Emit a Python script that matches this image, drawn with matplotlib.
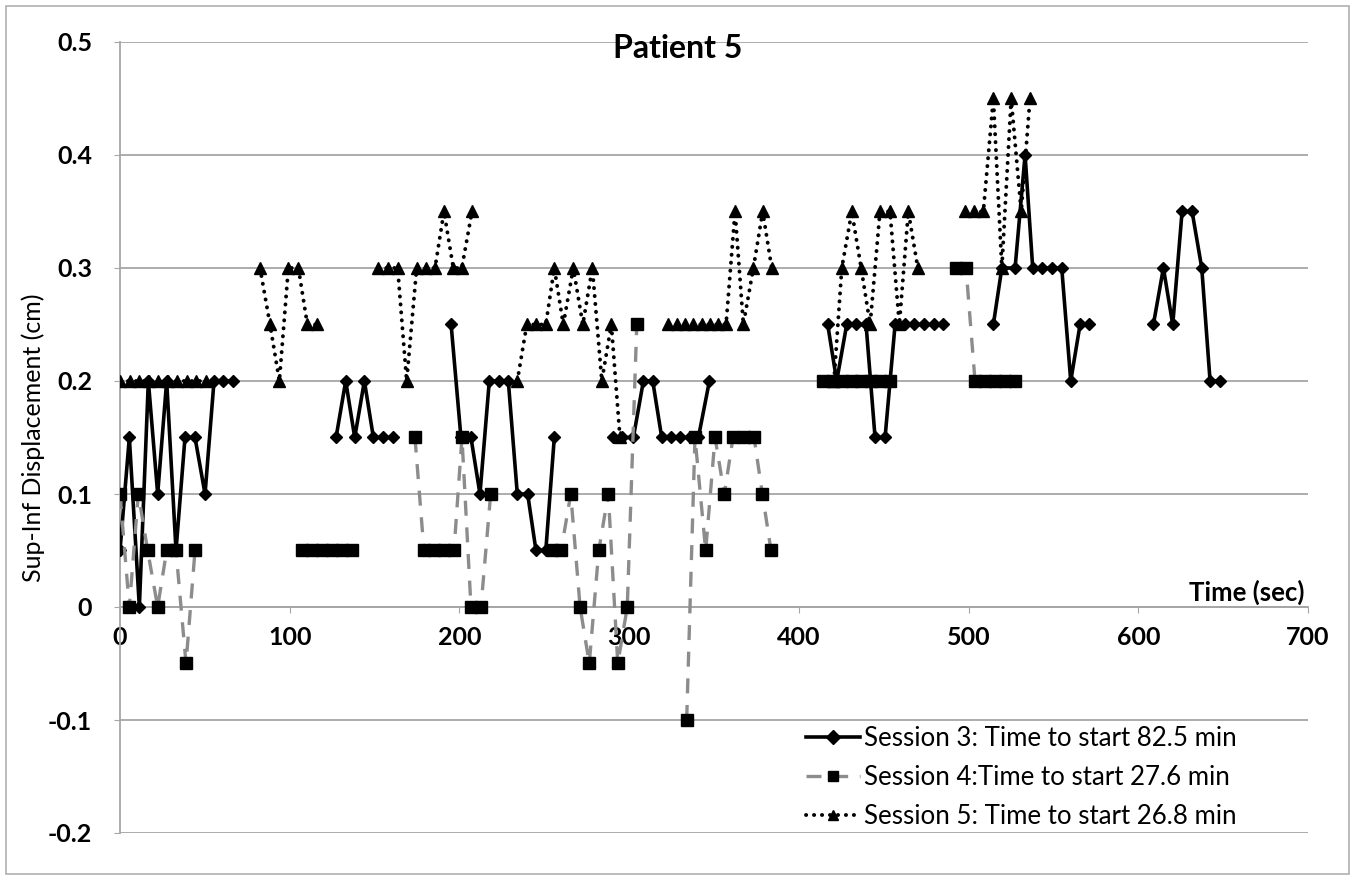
import numpy as np
import matplotlib
matplotlib.use("Agg")
import matplotlib.pyplot as plt
from matplotlib.patches import Rectangle

plt.rcParams['font.family'] = ['Lato', 'DejaVu Sans']

nan = np.nan

# Session 3 (solid, diamonds) -- NaN separates gaps
s3_t = [0, 5.5, 11.4, 16.7, 22.2, 27.5, 33.0, 38.3, 44.2, 50.1, 55.4, 60.9, 66.4, nan,
        127.3, 133.0, 138.3, 144.0, 149.3, 155.2, 160.7, nan,
        195.1, 200.9, 206.8, 212.1, 217.6, 223.3, 228.8, 234.1, 240.2, 245.1, 250.9, 255.9, nan,
        290.7, 295.6, 302.5, 308.4, 313.9, 319.2, 324.5, 330.0, 335.9, 340.8, 347.3, nan,
        417.0, 422.3, 428.2, 433.7, 439.6, 444.9, 450.8, 456.7, 462.4, 468.1, 473.8, 479.5, 485.1, nan,
        514.6, 519.6, 527.4, 533.3, 537.8, 543.1, 549.0, 554.9, 560.2, 565.7, 571.2, nan,
        608.9, 614.8, 620.3, 625.8, 631.7, 637.4, 642.3, 648.2]
s3_v = [.05, .15, 0, .2, .1, .2, .05, .15, .15, .1, .2, .2, .2, nan,
        .15, .2, .15, .2, .15, .15, .15, nan,
        .25, .15, .15, .1, .2, .2, .2, .1, .1, .05, .05, .15, nan,
        .15, .15, .15, .2, .2, .15, .15, .15, .15, .15, .2, nan,
        .25, .2, .25, .25, .25, .15, .15, .25, .25, .25, .25, .25, .25, nan,
        .25, .3, .3, .4, .3, .3, .3, .3, .2, .25, .25, nan,
        .25, .3, .25, .35, .35, .3, .2, .2]

# Session 4 (grey dashed, squares)
s4_t = [0, 5.5, 10.8, 16.3, 22.2, 27.5, 33.0, 38.9, 44.2, nan,
        107.2, 113.1, 119.0, 124.9, 130.8, 136.7, nan,
        173.8, 179.1, 185.0, 190.9, 196.8, 201.5, 206.8, 212.7, 218.4, nan,
        254.6, 259.9, 265.6, 271.1, 276.5, 282.1, 287.7, 293.3, 298.9, 304.5, nan,
        333.9, 338.8, 345.1, 350.6, 356.1, 361.2, 367.4, 373.6, 378.5, 383.6, nan,
        414.5, 420.1, 425.7, 431.3, 436.9, 442.5, 448.1, 453.7, nan,
        492.6, 498.5, 503.8, 509.7, 515.6, 521.5, 527.4]
s4_v = [.1, 0, .1, .05, 0, .05, .05, -.05, .05, nan,
        .05, .05, .05, .05, .05, .05, nan,
        .15, .05, .05, .05, .05, .15, 0, 0, .1, nan,
        .05, .05, .1, 0, -.05, .05, .1, -.05, 0, .25, nan,
        -.1, .15, .05, .15, .1, .15, .15, .15, .1, .05, nan,
        .2, .2, .2, .2, .2, .2, .2, .2, nan,
        .3, .3, .2, .2, .2, .2, .2]

# Session 5 (dotted, triangles)
s5_t = [0, 5.6, 11.2, 16.8, 22.4, 28.0, 33.6, 39.2, 44.8, 50.4, nan,
        82.5, 88.4, 93.9, 99.2, 105.1, 110.4, 115.9, nan,
        152.2, 157.7, 163.6, 168.9, 174.8, 180.1, 185.6, 190.9, 196.4, 201.4, 207.4, nan,
        234.1, 239.7, 245.3, 250.9, 255.9, 261.2, 267.1, 272.7, 278.3, 283.9, 289.5, 294.6, nan,
        323.1, 328.0, 333.0, 337.8, 342.7, 347.7, 352.6, 357.1, 362.4, 367.3, 373.2, 378.7, 384.0, nan,
        420.7, 425.3, 431.2, 436.7, 442.0, 447.8, 453.7, 459.2, 464.5, 470.1, nan,
        497.9, 503.4, 508.7, 514.6, 519.6, 525.1, 531.0, 536.2]
s5_v = [.2, .2, .2, .2, .2, .2, .2, .2, .2, .2, nan,
        .3, .25, .2, .3, .3, .25, .25, nan,
        .3, .3, .3, .2, .3, .3, .3, .35, .3, .3, .35, nan,
        .2, .25, .25, .25, .3, .25, .3, .25, .3, .2, .25, .15, nan,
        .25, .25, .25, .25, .25, .25, .25, .25, .35, .25, .3, .35, .3, nan,
        .2, .3, .35, .3, .25, .35, .35, .25, .35, .3, nan,
        .35, .35, .35, .45, .3, .45, .35, .45]

labels = ["Session 3: Time to start 82.5 min",
          "Session 4:Time to start 27.6 min",
          "Session 5: Time to start 26.8 min"]
x_ticks = [0, 100, 200, 300, 400, 500, 600, 700]
y_ticks = [-0.2, -0.1, 0, 0.1, 0.2, 0.3, 0.4, 0.5]
y_ticklabels = ["-0.2", "-0.1", "0", "0.1", "0.2", "0.3", "0.4", "0.5"]

W, H = 1355, 880
fig = plt.figure(figsize=(W / 100, H / 100), dpi=100)
ax = fig.add_axes([120 / W, 1 - 833 / H, (1308 - 120) / W, (833 - 42) / H])

grid_c = '#a6a6a6'
ax.spines['top'].set_visible(False)
ax.spines['right'].set_visible(False)
ax.spines['bottom'].set_position(('data', 0))
ax.spines['bottom'].set_color(grid_c)
ax.spines['left'].set_color(grid_c)
ax.spines['bottom'].set_linewidth(1.3)
ax.spines['left'].set_linewidth(1.3)

for yv in y_ticks:
    ax.axhline(yv, color=grid_c, lw=1.3, zorder=0)

l3, = ax.plot(s3_t, s3_v, color='black', lw=2.6, marker='D', markersize=6,
              markerfacecolor='black', markeredgecolor='black', zorder=3)
l4, = ax.plot(s4_t, s4_v, color='#8c8c8c', lw=2.4, dashes=(4.5, 3.5),
              marker='s', markersize=8, markerfacecolor='black', markeredgecolor='black', zorder=4)
l5, = ax.plot(s5_t, s5_v, color='black', lw=2.8, linestyle=(0, (0.05, 2.0)),
              dash_capstyle='round',
              marker='^', markersize=8.5, markerfacecolor='black', markeredgecolor='black', zorder=5)

ax.set_xlim(0, 700)
ax.set_ylim(-0.2, 0.5)
ax.set_xticks(x_ticks)
ax.set_xticklabels([str(v) for v in x_ticks], fontweight='bold', fontsize=18)
ax.set_yticks(y_ticks)
ax.set_yticklabels(y_ticklabels, fontweight='bold', fontsize=18)
ax.tick_params(axis='x', length=4, color=grid_c, pad=10)
ax.tick_params(axis='y', length=4, color=grid_c, pad=16)

ax.set_ylabel("Sup-Inf Displacement (cm)", fontsize=18)
ax.yaxis.set_label_coords(-75 / (1308 - 120), 0.5)
fig.text(0.5, 1 - 48 / H, "Patient 5", ha='center', va='center',
         fontsize=23, fontweight='bold')
ax.text(698, 0.013, "Time (sec)", ha='right', va='center', fontsize=18.5, fontweight='bold')

leg = ax.legend([l3, l4, l5], labels, loc='upper left',
                bbox_to_anchor=(806 / W, 1 - 726 / H), bbox_transform=fig.transFigure,
                frameon=False, fontsize=18.6, handlelength=2.1, handletextpad=0.15,
                labelspacing=0.55, borderaxespad=0, borderpad=0)
for h in leg.legend_handles:
    h.set_markersize(7)

fig.add_artist(Rectangle((6 / W, 6 / H), 1 - 12 / W, 1 - 12 / H, transform=fig.transFigure,
                         fill=False, edgecolor='#b0b0b0', lw=1.2))

fig.savefig("out.png", dpi=100)
